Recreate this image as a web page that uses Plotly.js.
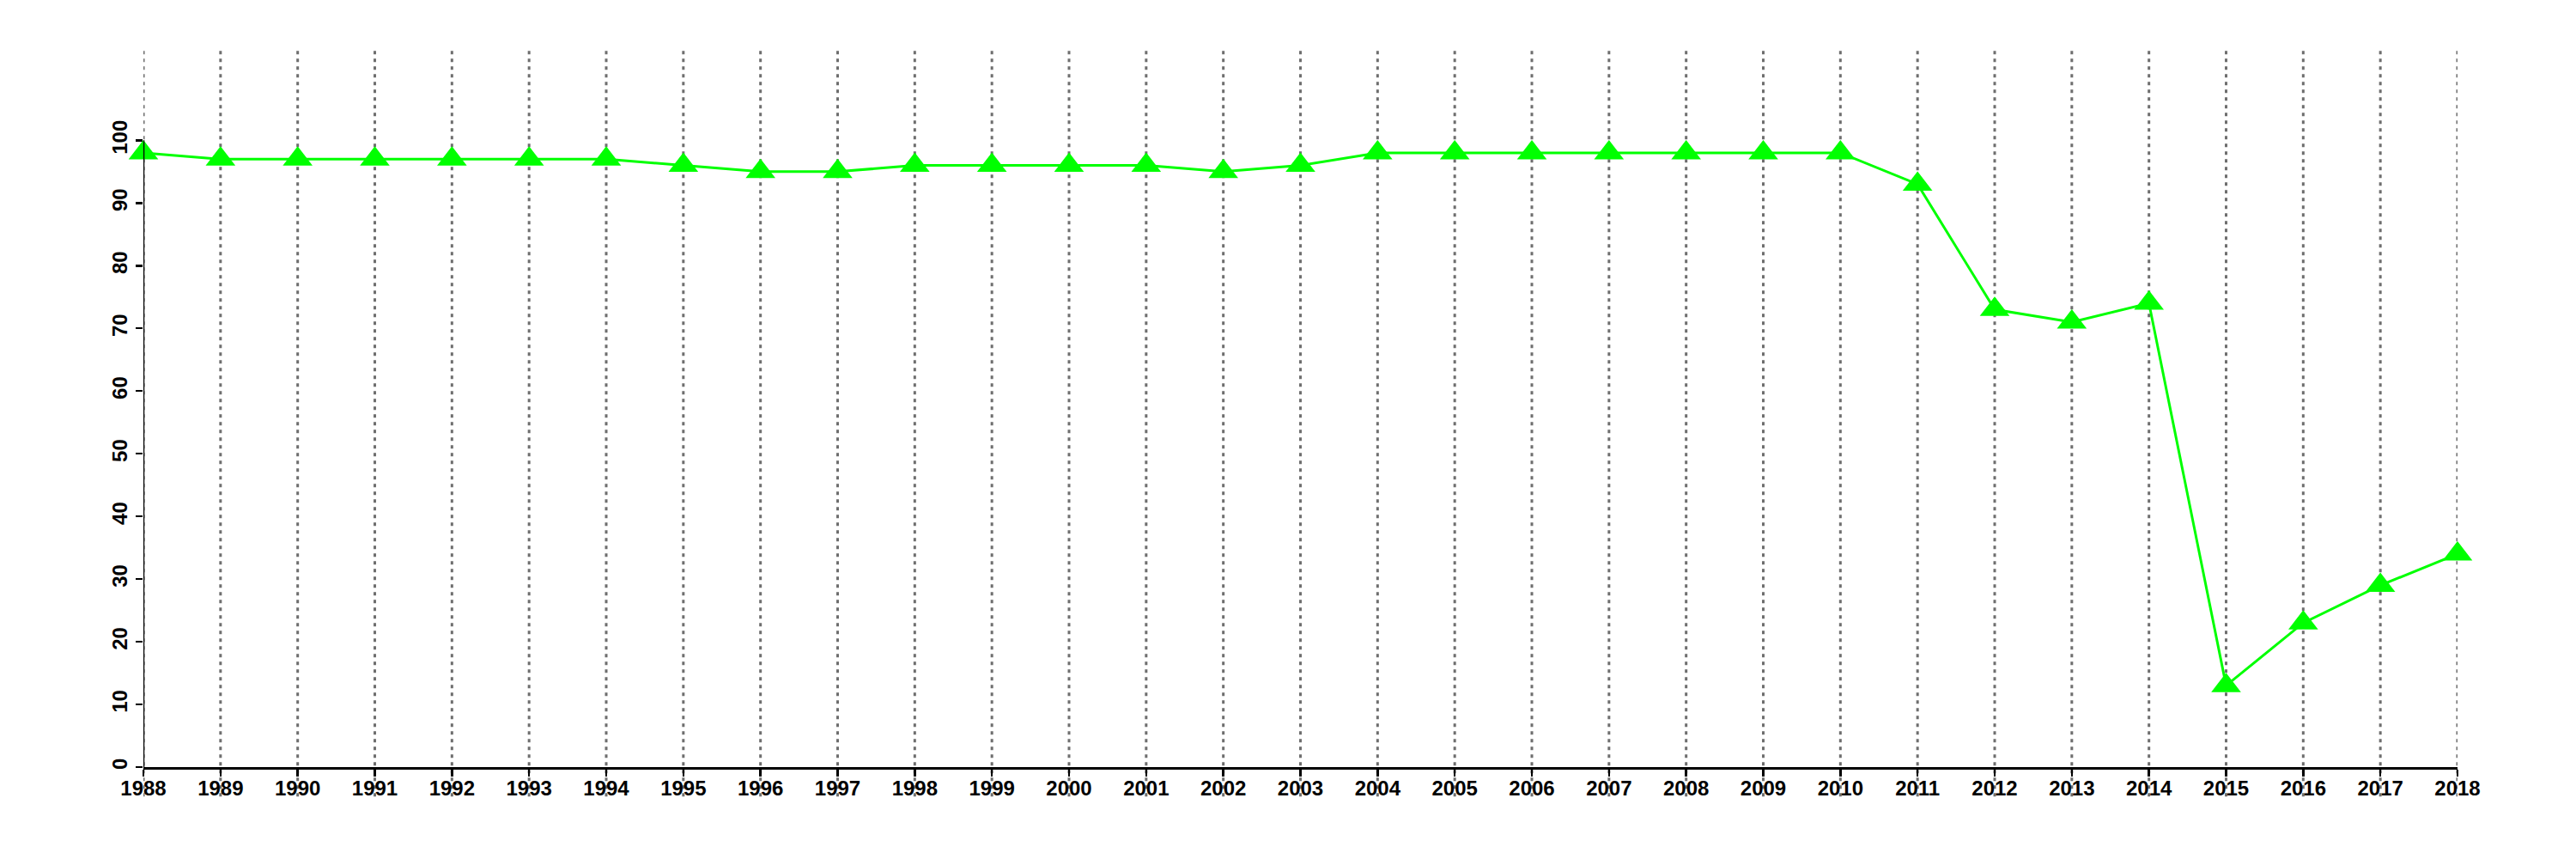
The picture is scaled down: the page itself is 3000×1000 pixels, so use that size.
<!DOCTYPE html>
<html>
<head>
<meta charset="utf-8">
<script src="https://cdn.plot.ly/plotly-3.0.1.min.js"></script>
<style>html,body{margin:0;padding:0;background:#fff;}#chart{width:3000px;height:1000px;}</style>
</head>
<body>
<div id="chart"></div>
<script>
const years = [1988,1989,1990,1991,1992,1993,1994,1995,1996,1997,1998,1999,2000,2001,2002,2003,2004,2005,2006,2007,2008,2009,2010,2011,2012,2013,2014,2015,2016,2017,2018];
const values = [98,97,97,97,97,97,97,96,95,95,96,96,96,96,95,96,98,98,98,98,98,98,98,93,73,71,74,13,23,29,34];
const yTicks = [0,10,20,30,40,50,60,70,80,90,100];

const gridShapes = years.map(y => ({
  type: 'line', xref: 'x', yref: 'paper', x0: y, x1: y, y0: -0.041, y1: 1,
  line: {color: '#6e6e6e', width: 3, dash: '4px,5px'}, layer: 'below'
}));
gridShapes.push({
  type: 'line', xref: 'x', yref: 'y', x0: years[0], x1: years[0], y0: yTicks[0], y1: yTicks[yTicks.length-1],
  line: {color: '#000', width: 2.5}, layer: 'above'
});

const trace = {
  x: years, y: values, type: 'scatter', mode: 'lines+markers',
  line: {color: '#00ff00', width: 3},
  marker: {symbol: 'triangle-up', size: 30, color: '#00ff00'},
  cliponaxis: false, showlegend: false
};

const font = {family: 'Liberation Sans, Arial, sans-serif', size: 24, color: '#000', weight: 'bold'};

const layout = {
  width: 3000, height: 1000,
  margin: {l: 166.7, r: 138, t: 59, b: 107},
  paper_bgcolor: '#fff', plot_bgcolor: '#fff',
  showlegend: false,
  xaxis: {
    range: [years[0], years[years.length-1]],
    tickvals: years, ticktext: years.map(String),
    showgrid: false, zeroline: false,
    showline: true, linecolor: '#000', linewidth: 2.5,
    ticks: 'outside', ticklen: 8, tickwidth: 2.5, tickcolor: '#000',
    tickfont: font, tickangle: 0, ticklabelstandoff: -6
  },
  yaxis: {
    range: [0, 114.3],
    tickvals: yTicks, ticktext: yTicks.map(String),
    showgrid: false, zeroline: false, showline: false,
    ticks: 'outside', ticklen: 8, tickwidth: 2.5, tickcolor: '#000',
    tickfont: font, tickangle: -90
  },
  shapes: gridShapes
};

Plotly.newPlot('chart', [trace], layout, {displayModeBar: false, staticPlot: true});
</script>
</body>
</html>
